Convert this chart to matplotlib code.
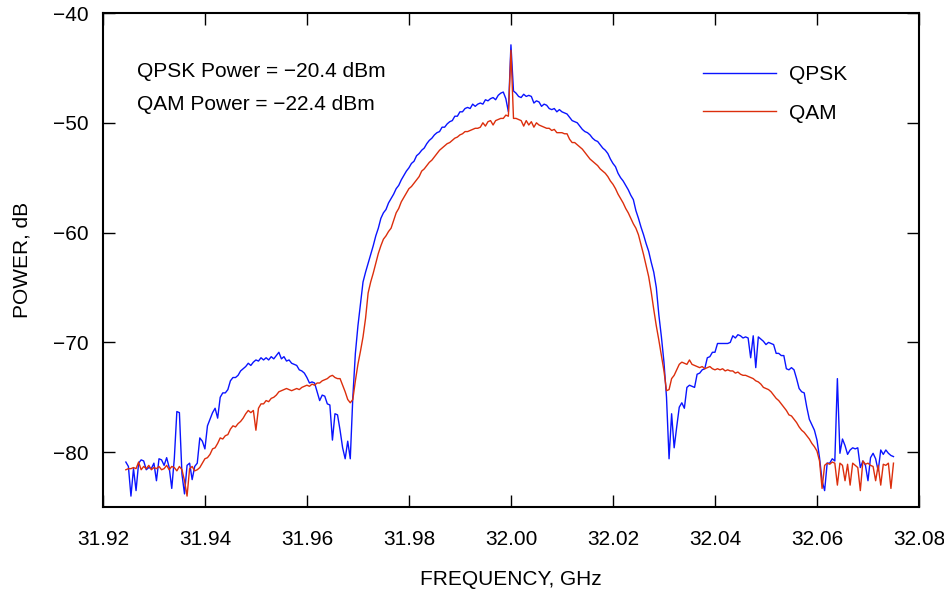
import numpy as np
import matplotlib
matplotlib.use("Agg")
import matplotlib.pyplot as plt

plt.rcParams['font.family'] = ['Liberation Sans', 'DejaVu Sans']

# Sweep grid (GHz)
f_start = 31.9245
f_step = 0.0005

qpsk_db = [
    -80.9, -81.3, -84.0, -81.5, -83.5, -81.0, -80.7, -80.8, -81.6, -81.4,
    -81.5, -81.0, -82.6, -80.6, -80.7, -81.2, -80.5, -81.4, -83.3, -80.6,
    -76.3, -76.4, -82.0, -83.8, -81.2, -81.0, -82.5, -81.3, -81.0, -78.7,
    -79.0, -79.7, -77.6, -77.0, -76.4, -76.0, -76.9, -75.0, -74.6, -74.6,
    -74.3, -73.5, -73.2, -73.2, -73.0, -72.6, -72.4, -72.2, -71.9, -72.1,
    -71.8, -71.6, -71.7, -71.4, -71.6, -71.4, -71.6, -71.3, -71.5, -71.2,
    -70.9, -71.5, -71.3, -71.7, -71.6, -71.9, -72.0, -72.1, -72.5, -72.6,
    -72.8, -73.2, -73.7, -73.6, -73.7, -74.5, -75.3, -74.8, -74.9, -75.6,
    -75.7, -78.9, -76.5, -76.6, -78.0, -79.6, -80.6, -79.0, -80.6, -75.0,
    -71.0, -68.5, -66.5, -64.5, -63.6, -62.8, -62.0, -61.2, -60.3, -59.6,
    -58.7, -58.2, -57.9, -57.3, -56.9, -56.5, -56.0, -55.7, -55.2, -54.8,
    -54.4, -54.1, -53.7, -53.5, -53.0, -52.8, -52.5, -52.3, -51.9, -51.6,
    -51.4, -51.1, -50.9, -50.8, -50.4, -50.4, -50.1, -49.9, -49.8, -49.4,
    -49.4, -49.0, -49.0, -48.7, -48.6, -48.7, -48.3, -48.5, -48.3, -48.2,
    -48.3, -47.9, -48.0, -47.8, -47.7, -47.9, -47.5, -47.3, -47.2, -47.8,
    -49.0, -42.9, -47.1, -47.3, -47.6, -47.7, -47.4, -47.6, -47.5, -47.6,
    -48.2, -48.0, -48.1, -48.5, -48.3, -48.4, -48.7, -48.8, -48.7, -49.0,
    -48.8, -49.0, -49.1, -49.2, -49.5, -49.8, -49.9, -50.0, -50.3, -50.6,
    -50.8, -50.9, -51.1, -51.4, -51.6, -51.7, -52.0, -52.3, -52.5, -52.8,
    -53.3, -53.7, -54.0, -54.6, -55.0, -55.3, -55.7, -56.1, -56.6, -57.0,
    -58.0, -58.7, -59.5, -60.2, -61.0, -61.7, -62.7, -63.6, -65.0, -67.5,
    -69.5, -71.8, -75.0, -80.6, -76.5, -79.6, -77.7, -75.9, -75.5, -76.0,
    -74.1, -73.9, -74.0, -74.1, -72.9, -72.8, -72.5, -72.4, -71.4, -71.3,
    -70.9, -70.9, -70.1, -70.1, -70.1, -70.1, -70.1, -70.0, -69.4, -69.6,
    -69.3, -69.4, -69.6, -69.5, -69.6, -71.4, -69.4, -72.3, -69.5, -69.7,
    -69.9, -70.2, -70.0, -70.1, -70.2, -71.0, -71.0, -71.2, -71.2, -72.4,
    -72.5, -72.3, -72.5, -73.3, -74.2, -74.5, -74.6, -75.9, -77.0, -77.5,
    -78.0, -78.9, -80.5, -82.6, -83.5, -81.0, -81.0, -80.6, -80.8, -73.3,
    -80.1, -78.8, -79.4, -80.2, -79.8, -79.6, -79.7, -79.6, -81.4, -80.8,
    -81.2, -82.6, -80.5, -80.1, -80.6, -81.7, -79.8, -80.2, -79.8, -80.1,
    -80.3, -80.4,
]

qam_db = [
    -81.6, -81.5, -81.5, -81.4, -81.5, -80.9, -81.6, -81.3, -81.5, -81.2,
    -81.6, -81.4, -81.5, -81.3, -81.6, -81.5, -81.2, -81.6, -81.3, -81.4,
    -81.7, -81.3, -81.6, -82.6, -84.0, -81.5, -81.3, -81.7, -81.6, -81.4,
    -81.0, -80.6, -80.5, -80.2, -79.7, -79.6, -79.2, -78.7, -78.8, -78.5,
    -78.4, -77.9, -77.6, -77.7, -77.4, -77.2, -76.9, -76.5, -76.2, -76.4,
    -76.2, -78.0, -76.0, -75.6, -75.6, -75.3, -75.4, -75.1, -75.0, -74.8,
    -74.5, -74.4, -74.3, -74.2, -74.3, -74.4, -74.3, -74.2, -74.3, -74.1,
    -74.0, -73.9, -74.0, -73.8, -73.9, -73.7, -73.7, -73.5, -73.4, -73.3,
    -73.1, -73.0, -73.2, -73.3, -73.3, -73.9, -74.5, -75.2, -75.5, -75.2,
    -73.5, -72.0, -70.8, -69.5, -67.8, -65.5, -64.5, -63.7, -62.8, -61.9,
    -61.2, -60.6, -60.3, -59.9, -59.6, -58.9, -58.2, -57.8, -57.2, -56.8,
    -56.4, -56.0, -55.8, -55.5, -55.2, -54.9, -54.4, -54.2, -53.9, -53.6,
    -53.4, -53.1, -52.8, -52.5, -52.3, -52.1, -51.9, -51.8, -51.6, -51.4,
    -51.3, -51.1, -51.0, -50.8, -50.8, -50.7, -50.6, -50.5, -50.5, -50.4,
    -50.0, -50.3, -49.9, -49.8, -50.2, -49.8, -49.7, -49.6, -49.6, -49.3,
    -49.4, -43.4, -49.6, -49.6, -49.7, -49.8, -50.3, -49.8, -50.2, -49.9,
    -50.4, -50.0, -50.2, -50.3, -50.4, -50.5, -50.5, -50.7, -50.6, -50.9,
    -50.9, -50.9, -51.0, -51.0, -51.5, -51.8, -51.8, -52.0, -52.2, -52.4,
    -52.7, -53.0, -53.3, -53.5, -53.7, -53.9, -54.2, -54.4, -54.6, -54.9,
    -55.3, -55.6, -56.0, -56.5, -56.9, -57.3, -57.8, -58.2, -58.7, -59.2,
    -59.6, -60.2, -61.1, -62.0, -63.0, -64.0, -65.4, -67.0, -68.5, -69.8,
    -71.2, -72.6, -74.4, -74.3, -73.3, -73.0, -72.5, -72.0, -71.8, -71.9,
    -72.0, -71.6, -72.0, -72.1, -72.2, -72.3, -72.2, -72.4, -72.3, -72.2,
    -72.4, -72.5, -72.4, -72.5, -72.4, -72.6, -72.5, -72.6, -72.6, -72.8,
    -72.7, -72.9, -73.0, -73.0, -73.1, -73.2, -73.3, -73.5, -73.6, -73.8,
    -74.1, -74.2, -74.3, -74.5, -74.8, -75.1, -75.3, -75.6, -75.9, -76.2,
    -76.6, -76.7, -77.0, -77.3, -77.7, -78.0, -78.2, -78.5, -78.8, -79.2,
    -79.5, -79.9, -80.8, -83.3, -81.2, -81.0, -81.1, -80.9, -81.0, -83.0,
    -81.0, -81.2, -82.6, -81.1, -83.0, -81.0, -81.2, -81.4, -83.5, -80.8,
    -81.1, -81.0, -81.2, -81.3, -82.6, -81.2, -83.0, -81.1, -81.2, -81.0,
    -83.3, -81.0,
]

series_labels = ["QPSK", "QAM"]
power_notes = ["QPSK Power = \u221220.4 dBm", "QAM Power = \u221222.4 dBm"]
x_ticks = [31.92, 31.94, 31.96, 31.98, 32.00, 32.02, 32.04, 32.06, 32.08]
y_ticks = [-80, -70, -60, -50, -40]

freq = f_start + f_step * np.arange(len(qpsk_db))

fig = plt.figure(figsize=(9.44, 5.91), dpi=100)
ax = fig.add_axes([0.109, 0.142, 0.8645, 0.836])

ax.plot(freq, qpsk_db, color='#0a14ff', lw=1.0, label=series_labels[0])
ax.plot(freq, qam_db, color='#dc2e0c', lw=1.0, label=series_labels[1])

ax.set_xlim(31.92, 32.08)
ax.set_ylim(-85, -40)
ax.set_xticks(x_ticks)
ax.set_xticklabels([f"{v:.2f}" for v in x_ticks])
ax.set_yticks(y_ticks)
ax.set_yticklabels([f"\u2212{abs(v)}" for v in y_ticks])

ax.tick_params(direction='in', length=8.5, width=1.0, top=True, right=True,
               labelsize=15)
ax.tick_params(axis='x', pad=16.5)
ax.tick_params(axis='y', pad=10)
for s in ax.spines.values():
    s.set_linewidth(1.5)

ax.set_xlabel("FREQUENCY, GHz", fontsize=15, labelpad=15)
ax.set_ylabel("POWER, dB", fontsize=15, labelpad=16)

ax.text(0.0417, 0.881, power_notes[0], transform=ax.transAxes, fontsize=15, va='center', ha='left')
ax.text(0.0417, 0.815, power_notes[1], transform=ax.transAxes, fontsize=15, va='center', ha='left')

leg = ax.legend(loc='upper left', bbox_to_anchor=(0.735, 0.895), frameon=False,
                fontsize=15, handlelength=3.5, handletextpad=0.62, labelspacing=0.95,
                borderaxespad=0, borderpad=0)

fig.savefig("out.png", dpi=100)
